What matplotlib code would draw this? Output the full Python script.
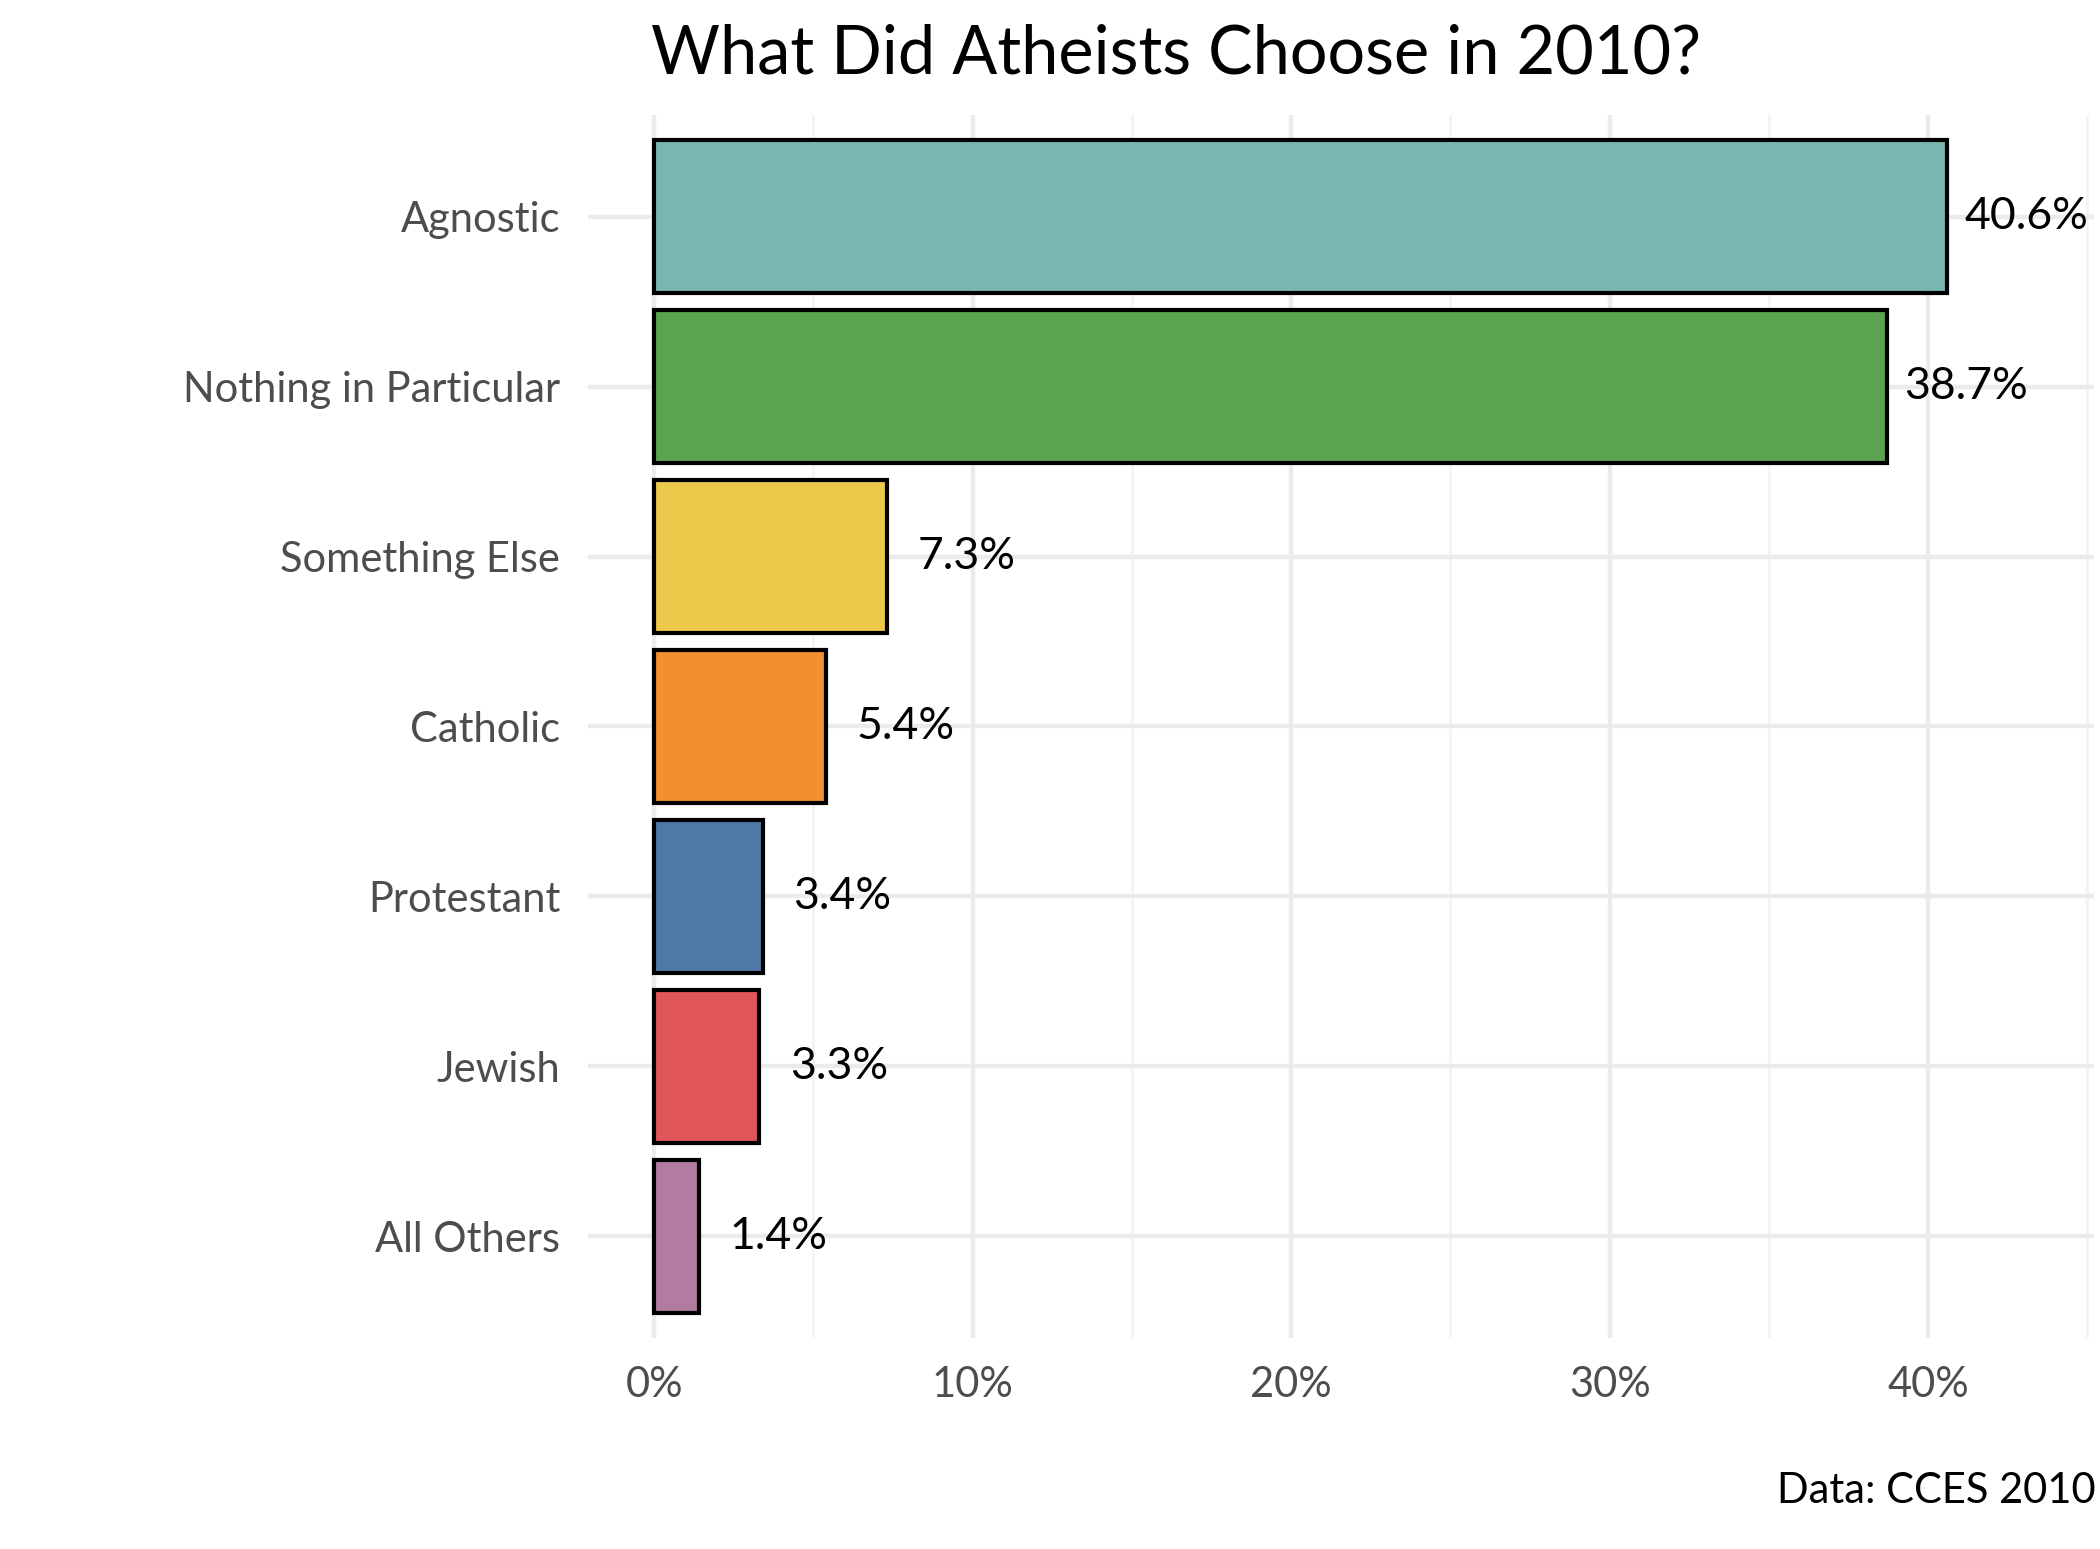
import matplotlib.pyplot as plt
from matplotlib.ticker import FixedLocator

# data
categories = ["Agnostic", "Nothing in Particular", "Something Else", "Catholic",
              "Protestant", "Jewish", "All Others"]
values = [40.6, 38.7, 7.3, 5.4, 3.4, 3.3, 1.4]
colors = ["#79B6B0", "#5AA34F", "#ECC94B", "#F28F2E", "#4E79A7", "#E15759", "#B27BA2"]
xticks = [0, 10, 20, 30, 40]

plt.rcParams['font.family'] = ['Lato', 'DejaVu Sans']

fig = plt.figure(figsize=(10.5, 7.745), dpi=200)
ax = fig.add_axes([0.280, 0.136, 0.717, 0.790])

ypos = list(range(len(categories)))[::-1]
ax.barh(ypos, values, height=0.9, color=colors, edgecolor="black", linewidth=1.5, zorder=3)
for y, v in zip(ypos, values):
    ax.text(v + 2.5, y, f"{v}%", ha="center", va="center", fontsize=16, color="black", zorder=4)

ax.set_xlim(-2.08, 45.2)
ax.set_ylim(-0.6, len(categories) - 0.4)
ax.set_yticks(ypos)
ax.set_yticklabels(categories)
ax.set_xticks(xticks)
ax.set_xticklabels([f"{t}%" for t in xticks])
ax.xaxis.set_minor_locator(FixedLocator([5, 15, 25, 35, 45]))
ax.grid(True, which="major", color="#EBEBEB", linewidth=1.6, zorder=0)
ax.grid(True, which="minor", axis="x", color="#F2F2F2", linewidth=0.9, zorder=0)
ax.tick_params(axis="both", which="both", length=0, labelsize=15, labelcolor="#4D4D4D", pad=10)
for s in ax.spines.values():
    s.set_visible(False)

fig.suptitle("What Did Atheists Choose in 2010?", x=0.56, y=0.985, fontsize=24, va="top")
fig.text(0.998, 0.025, "Data: CCES 2010", ha="right", va="bottom", fontsize=15)

fig.savefig("out.png", dpi=200)
